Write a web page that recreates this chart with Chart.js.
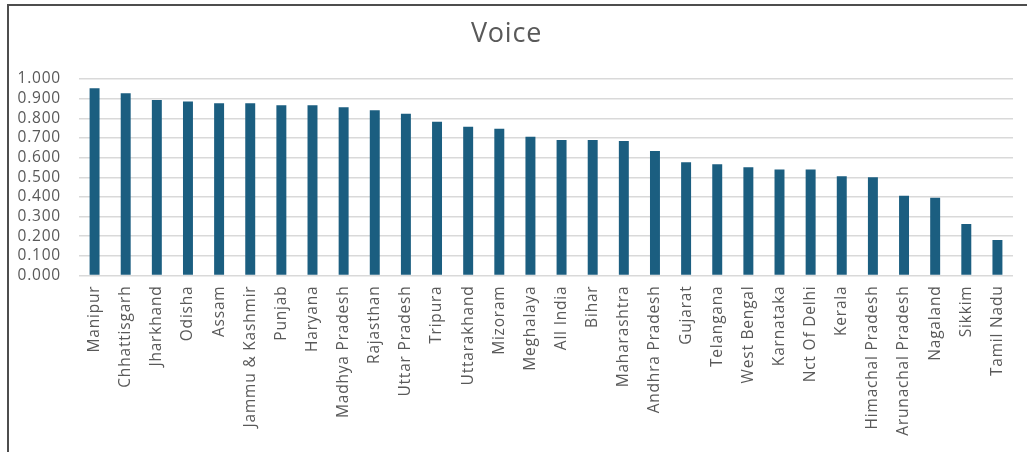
<!DOCTYPE html>
<html>
<head>
	<meta charset="utf-8">
	<script src="https://cdn.jsdelivr.net/npm/chart.js@4/dist/chart.umd.min.js"></script>
	<style>
		body { margin: 0; background: #ffffff; }
		#wrap { position: relative; width: 1027px; height: 452px; overflow: hidden; }
		#frame {
			position: absolute; left: 7px; top: 4px; right: -10px; bottom: -10px;
			border-left: 2px solid #4d4d4d; border-top: 2px solid #4d4d4d;
			pointer-events: none;
		}
	</style>
</head>
<body>
	<div id="wrap">
		<canvas id="voice-chart" width="1027" height="452"></canvas>
		<div id="frame"></div>
	</div>
	<script>
		const states = [
			'Manipur', 'Chhattisgarh', 'Jharkhand', 'Odisha', 'Assam', 'Jammu & Kashmir',
			'Punjab', 'Haryana', 'Madhya Pradesh', 'Rajasthan', 'Uttar Pradesh', 'Tripura',
			'Uttarakhand', 'Mizoram', 'Meghalaya', 'All India', 'Bihar', 'Maharashtra',
			'Andhra Pradesh', 'Gujarat', 'Telangana', 'West Bengal', 'Karnataka', 'Nct Of Delhi',
			'Kerala', 'Himachal Pradesh', 'Arunachal Pradesh', 'Nagaland', 'Sikkim', 'Tamil Nadu'
		];
		const voice = [
			0.953, 0.927, 0.893, 0.886, 0.876, 0.876,
			0.866, 0.866, 0.856, 0.841, 0.823, 0.783,
			0.757, 0.747, 0.706, 0.690, 0.690, 0.684,
			0.634, 0.576, 0.566, 0.551, 0.540, 0.540,
			0.505, 0.500, 0.406, 0.396, 0.262, 0.181
		];
		const yTicks = [0, 0.1, 0.2, 0.3, 0.4, 0.5, 0.6, 0.7, 0.8, 0.9, 1.0];

		const LABEL_GREY = '#595959';
		const FONT = "'Open Sans', 'Liberation Sans', sans-serif";

		// wider tracking on all chart text; canvas state gets reset on resize so set it each pass
		const spacing = {
			id: 'spacing',
			beforeLayout(chart) { chart.ctx.letterSpacing = '0.8px'; },
			beforeDraw(chart) { chart.ctx.letterSpacing = '0.8px'; }
		};

		new Chart(document.getElementById('voice-chart'), {
			type: 'bar',
			data: {
				labels: states,
				datasets: [{
					label: 'Voice',
					data: voice,
					backgroundColor: '#1b5e80',
					borderWidth: 0,
					categoryPercentage: 1,
					barPercentage: 0.32
				}]
			},
			options: {
				responsive: false,
				animation: false,
				layout: { padding: { left: 0, right: 14, top: 0, bottom: 0 } },
				plugins: {
					legend: { display: false },
					tooltip: { enabled: false },
					title: {
						display: true,
						text: 'Voice',
						color: LABEL_GREY,
						font: { family: FONT, size: 27, weight: 'normal' },
						padding: { top: 18, bottom: 28.6 }
					}
				},
				scales: {
					x: {
						grid: { display: false, drawTicks: false },
						border: { display: false },
						ticks: {
							color: LABEL_GREY,
							font: { family: FONT, size: 15.5 },
							minRotation: 90,
							maxRotation: 90,
							autoSkip: false,
							padding: 10
						},
						afterFit(scale) { scale.height = 176.5; }
					},
					y: {
						min: 0,
						max: 1,
						grid: { color: '#d9d9d9', lineWidth: 1.5, drawTicks: false },
						border: { display: false },
						afterBuildTicks(scale) { scale.ticks = yTicks.map(v => ({ value: v })); },
						ticks: {
							color: LABEL_GREY,
							font: { family: FONT, size: 15.5 },
							padding: 18,
							autoSkip: false,
							callback: v => v.toFixed(3)
						},
						afterFit(scale) { scale.width = 79; }
					}
				}
			},
			plugins: [spacing]
		});
	</script>
</body>
</html>
